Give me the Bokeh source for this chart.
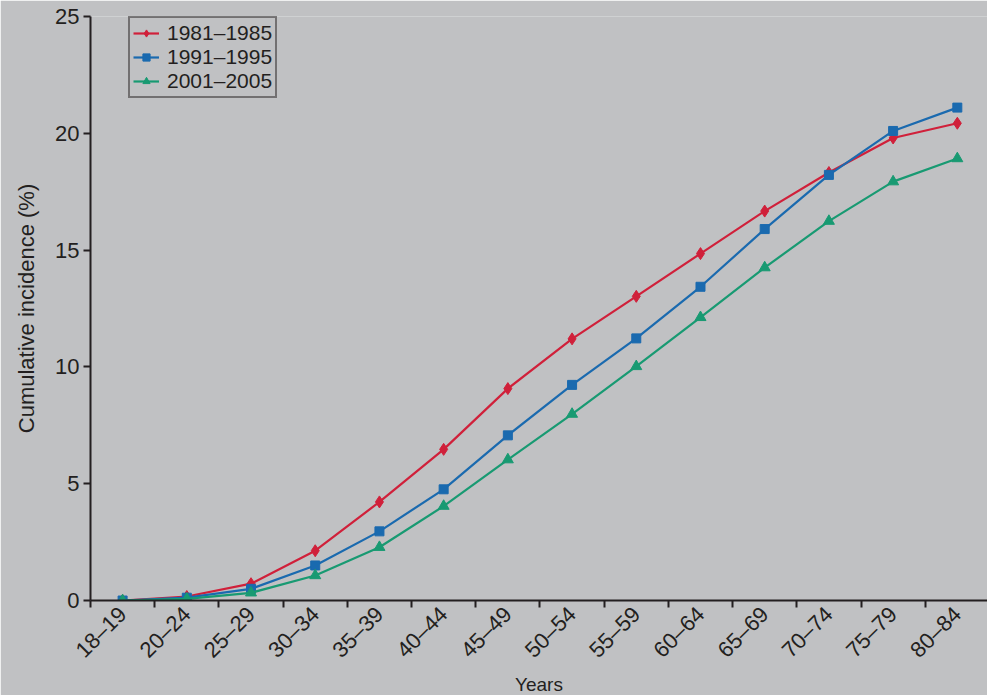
import math
from bokeh.plotting import figure
from bokeh.models import (Range1d, FixedTicker, Legend, LegendItem)
from bokeh.embed import file_html
from bokeh.resources import INLINE

categories = ["18–19", "20–24", "25–29", "30–34", "35–39", "40–44", "45–49",
              "50–54", "55–59", "60–64", "65–69", "70–74", "75–79", "80–84"]
series_1981_1985 = [0.0, 0.17, 0.72, 2.13, 4.22, 6.47, 9.07, 11.2, 13.02, 14.85, 16.67, 18.32, 19.8, 20.43]
series_1991_1995 = [0.0, 0.12, 0.5, 1.5, 2.96, 4.76, 7.07, 9.23, 11.22, 13.43, 15.9, 18.22, 20.1, 21.1]
series_2001_2005 = [0.0, 0.07, 0.33, 1.07, 2.28, 4.04, 6.03, 7.98, 10.02, 12.12, 14.25, 16.24, 17.93, 18.92]
y_ticks = [0, 5, 10, 15, 20, 25]

BG = "#c0c1c3"
INK = "#231f20"
FONT = "Liberation Sans"
FS = "22px"
RED = "#d0203a"
BLUE = "#1a6aaf"
GREEN = "#189a72"

xs = [i + 0.5 for i in range(len(categories))]

p = figure(frame_width=897, frame_height=584, output_backend="svg", toolbar_location=None,
           x_range=Range1d(0, 13.97), y_range=Range1d(0, 25),
           min_border_left=90, min_border_right=0, min_border_top=16, min_border_bottom=10)
p.background_fill_color = BG
p.border_fill_color = BG
p.outline_line_color = None
p.grid.visible = False

r1l = p.line(xs, series_1981_1985, line_color=RED, line_width=2.2)
r1m = p.scatter(xs, series_1981_1985, marker="diamond", size=12, color=RED)
r2l = p.line(xs, series_1991_1995, line_color=BLUE, line_width=2.2)
r2m = p.scatter(xs, series_1991_1995, marker="square", size=9, color=BLUE)
r3l = p.line(xs, series_2001_2005, line_color=GREEN, line_width=2.2)
r3m = p.scatter(xs, series_2001_2005, marker="triangle", size=11, color=GREEN)

# x axis
xa = p.xaxis[0]
xa.ticker = FixedTicker(ticks=xs, minor_ticks=list(range(len(categories) + 1)))
xa.major_label_overrides = {x: c for x, c in zip(xs, categories)}
xa.major_label_orientation = math.pi / 4
xa.major_tick_out = 0
xa.major_tick_in = 0
xa.minor_tick_out = 7
xa.minor_tick_in = 0
xa.minor_tick_line_width = 2
xa.minor_tick_line_color = INK
xa.axis_line_width = 2
xa.axis_line_color = INK
xa.major_label_text_font = FONT
xa.major_label_text_font_size = FS
xa.major_label_text_color = INK
xa.major_label_standoff = 3
xa.axis_label = "Years"
xa.axis_label_text_font = FONT
xa.axis_label_text_font_size = "19px"
xa.axis_label_text_font_style = "normal"
xa.axis_label_text_color = INK
xa.axis_label_standoff = 0

# y axis
ya = p.yaxis[0]
ya.ticker = FixedTicker(ticks=y_ticks)
ya.major_tick_out = 7
ya.major_tick_in = 0
ya.major_tick_line_width = 2
ya.major_tick_line_color = INK
ya.minor_tick_line_color = None
ya.axis_line_width = 2
ya.axis_line_color = INK
ya.major_label_text_font = FONT
ya.major_label_text_font_size = FS
ya.major_label_text_color = INK
ya.major_label_standoff = 4
ya.axis_label = "Cumulative incidence (%)"
ya.axis_label_text_font = FONT
ya.axis_label_text_font_size = FS
ya.axis_label_text_font_style = "normal"
ya.axis_label_text_color = INK
ya.axis_label_standoff = 13

legend = Legend(items=[
    LegendItem(label="1981–1985", renderers=[r1l, r1m]),
    LegendItem(label="1991–1995", renderers=[r2l, r2m]),
    LegendItem(label="2001–2005", renderers=[r3l, r3m]),
], location=(38, 502))
legend.label_text_font = FONT
legend.label_text_font_size = "21px"
legend.label_text_color = INK
legend.label_height = 18
legend.glyph_height = 18
legend.glyph_width = 26
legend.label_standoff = 8
legend.spacing = 0
legend.padding = 3
legend.margin = 0
legend.border_line_color = INK
legend.border_line_width = 2
legend.background_fill_alpha = 0
p.add_layout(legend, "center")

open("out.html", "w").write(file_html(p, INLINE))
